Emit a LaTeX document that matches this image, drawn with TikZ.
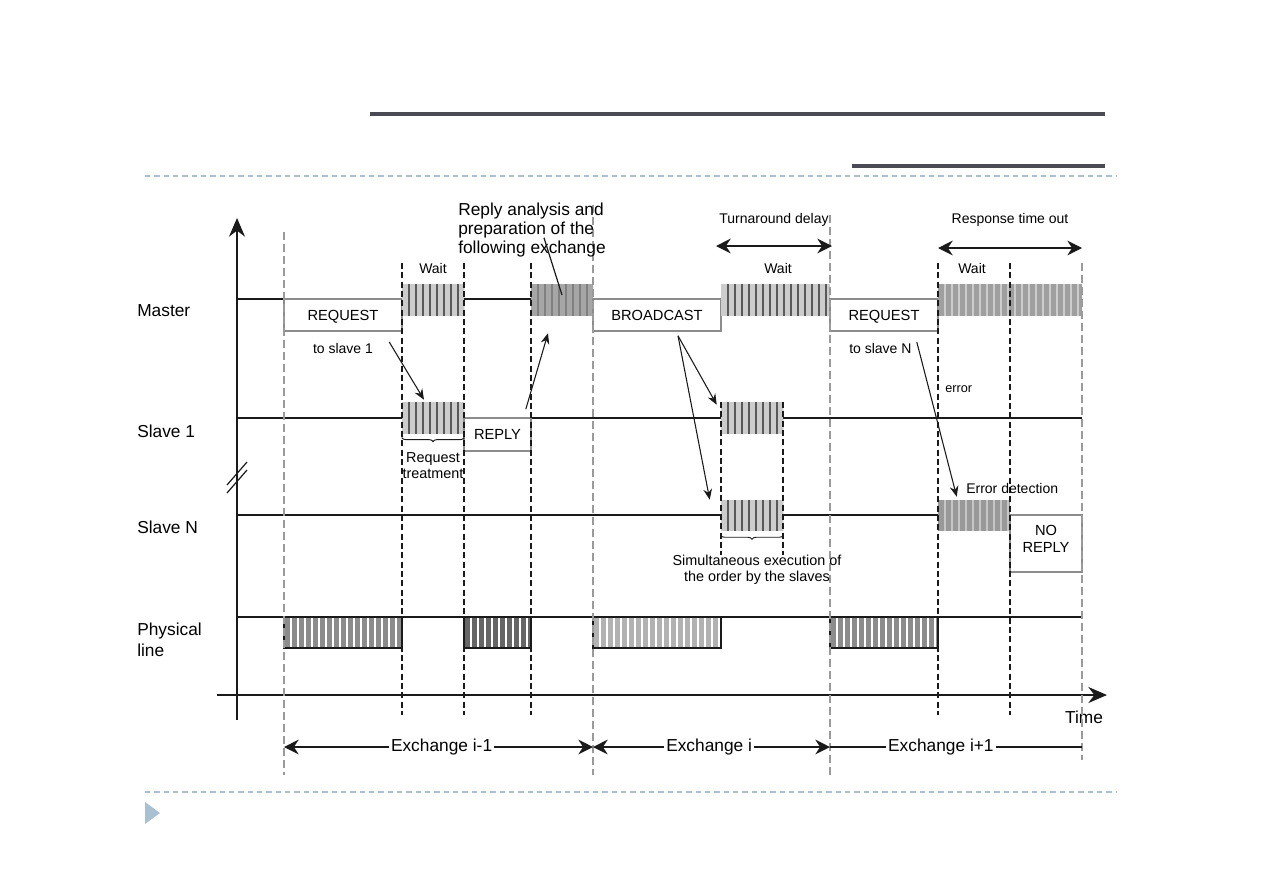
\documentclass[tikz,border=0pt]{standalone}
\usepackage{fontspec}
\setmainfont{Liberation Sans}
\usetikzlibrary{arrows.meta,positioning,fit,decorations.pathreplacing}
\definecolor{ink}{HTML}{1A1A1A}
\definecolor{rulec}{HTML}{4A4A55}
\definecolor{sepc}{HTML}{A9C0D3}
\definecolor{framec}{HTML}{8C8C8C}
\definecolor{slotc}{HTML}{9A9A9A}
\tikzset{
  lane/.style={draw=ink, line width=1.1pt},
  msg/.style={rectangle, draw=framec, line width=1.2pt, fill=white, inner sep=0pt},
  boxtxt/.style={inner sep=0pt, align=center, font=\fontsize{11}{12.5}\selectfont},
  busy/.style 2 args={rectangle, draw=none, fill=#1, inner sep=0pt,
              path picture={\foreach \k in {1,...,24}
                {\draw[#2, line width=0.8pt]
                   ([xshift=\k*5.25pt]path picture bounding box.south west) --
                   ([xshift=\k*5.25pt]path picture bounding box.north west);}}},
  wire/.style={draw=ink, line width=0.9pt},
  slot/.style={draw=slotc, line width=0.9pt, dash pattern=on 6pt off 3pt},
  slotdk/.style={draw=ink, line width=0.8pt, dash pattern=on 4.5pt off 2.5pt},
  fl/.style={-{Stealth[length=8pt,width=6.5pt]}, draw=ink, line width=0.8pt},
  dimarr/.style={{Stealth[length=11pt,width=11pt]}-{Stealth[length=11pt,width=11pt]},
              draw=ink, line width=1.1pt},
  axis/.style={-{Stealth[length=14pt,width=12pt]}, draw=ink, line width=1.2pt},
  brc/.style={decorate, decoration={brace, amplitude=3pt}, draw=ink, line width=0.7pt},
  lanelbl/.style={font=\fontsize{13}{15.5}\selectfont, inner sep=0pt, align=left},
  lbl/.style={font=\fontsize{10.5}{12}\selectfont, inner sep=0pt},
  small/.style={font=\fontsize{10.8}{12}\selectfont, inner sep=0pt, align=center},
  big/.style={font=\fontsize{13}{14.6}\selectfont, inner sep=0pt, align=left},
}

\begin{document}
\begin{tikzpicture}[x=0.75pt, y=-0.75pt]
\fill[white] (0,0) rectangle (1263,893);
\useasboundingbox (0,0) rectangle (1263,893);

% --- slide frame --------------------------------------------------------
\draw[draw=rulec, line width=2.6pt] (370,114) -- (1105,114);
\draw[draw=rulec, line width=2.6pt] (852,166) -- (1105,166);
\draw[draw=sepc, line width=0.8pt, dash pattern=on 4pt off 3pt] (145,176) -- (1117,176);
\draw[draw=sepc, line width=0.8pt, dash pattern=on 4pt off 3pt] (145,792) -- (1117,792);
\fill[sepc] (145,802) -- (160,813) -- (145,824) -- cycle;

% --- axes and lanes -----------------------------------------------------
\draw[axis] (237,720) -- (237,218);
\draw[axis] (217,695) -- (1107,695);
\draw[wire] (227,493) -- (247,470);
\draw[wire] (227,485) -- (247,462);
\node[lanelbl] (time) at (1084,717) {Time};

\node[lanelbl, anchor=west] (lmst) at (137,311) {Master};
\node[lanelbl, anchor=west] (ls1) at (137,431) {Slave 1};
\node[lanelbl, anchor=west] (lsn) at (137,527) {Slave N};
\node[lanelbl, anchor=west] (lphy) at (137,640) {Physical\\line};

\draw[lane] (237,299) -- (1082,299);
\draw[lane] (237,418) -- (1082,418);
\draw[lane] (237,515) -- (1082,515);
\draw[lane] (237,617) -- (1082,617);

% --- master -------------------------------------------------------------
\node[msg, fit={(284,299)(402,331)}, label={[boxtxt, text depth=0pt]center:REQUEST}] (req1) {};
\node[busy={gray!40}{black!65}, fit={(402,284)(464,316)}] (wt1) {};
\node[busy={gray!70}{black!50}, fit={(531,284)(593,316)}] (ana) {};
\node[msg, fit={(593,299)(721,331)}, label={[boxtxt]center:BROADCAST}] (bcast) {};
\node[busy={gray!40}{black!65}, fit={(721,284)(830,316)}] (wt2) {};
\node[msg, fit={(830,299)(938,331)}, label={[boxtxt, text depth=0pt]center:REQUEST}] (req2) {};
\node[busy={gray!75}{gray!40}, fit={(938,284)(1082,316)}] (wt3) {};

% --- slaves -------------------------------------------------------------
\node[busy={gray!40}{black!65}, fit={(402,402)(464,434)}] (tr1) {};
\node[msg, fit={(464,418)(531,451)}, label={[boxtxt]center:REPLY}] (rep1) {};
\node[busy={gray!40}{black!65}, fit={(721,402)(783,434)}] (ex1) {};
\node[busy={gray!40}{black!65}, fit={(721,500)(783,531)}] (exn) {};
\node[busy={gray!80}{gray!45}, fit={(938,500)(1010,531)}] (det) {};
\node[msg, fit={(1010,515)(1082,572)}, label={[boxtxt, yshift=3.5pt]center:NO\\REPLY}] (norep) {};

% --- physical line ------------------------------------------------------
\node[busy={gray!90}{white}, draw=ink, line width=0.9pt, fit={(284,617)(402,648)}] (ph1) {};
\node[busy={black!60}{white}, draw=ink, line width=0.9pt, fit={(464,617)(531,648)}] (ph2) {};
\node[busy={gray!60}{white}, draw=ink, line width=0.9pt, fit={(593,617)(721,648)}] (ph3) {};
\node[busy={gray!90}{white}, draw=ink, line width=0.9pt, fit={(830,617)(938,648)}] (ph4) {};

% --- time marks ---------------------------------------------------------
\foreach \x/\ya/\yb in {284/232/775, 593/205/775, 830/215/775, 1082/263/760}
  \draw[slot] (\x,\ya) -- (\x,\yb);
\foreach \x in {402,464,531,938,1010}
  \draw[slotdk] (\x,263) -- (\x,715);
\foreach \x in {721,783}
  \draw[slotdk] (\x,402) -- (\x,555);

% --- labels and messages ------------------------------------------------
\node[lbl] (w1) at (433,268) {Wait};
\node[lbl] (w2) at (778,268) {Wait};
\node[lbl, anchor=west] (w3) at (958,268) {Wait};
\node[lbl] (to1) at (343,348) {to slave 1};
\node[lbl, anchor=west] (to2) at (849,348) {to slave N};
\node[big, anchor=west] (note) at (458,230)
  {Reply analysis and\\preparation of the\\following exchange};
\draw[wire] ([shift={(12,-20)}]note.south) -- ([shift={(0,-5)}]ana.center);

\draw[fl] ([shift={(16,-6)}]to1.east) -- ([shift={(-9,-2)}]tr1.north);
\draw[fl] ([shift={(-6,-8)}]rep1.north east) -- ([shift={(-14,17)}]ana.south);
\draw[fl] ([shift={(21,4)}]bcast.south) -- ([shift={(-4,3)}]ex1.north west);
\draw[fl] ([shift={(21,4)}]bcast.south) -- ([shift={(-11,0)}]exn.north west);
\draw[fl] ([shift={(5,-6)}]to2.east) -- ([shift={(19,-3)}]det.north west);

\draw[brc] ([yshift=-2.5pt]tr1.south east) -- ([yshift=-2.5pt]tr1.south west);
\node[small] (treat) at (433,466) {Request\\treatment};
\draw[brc] ([yshift=-3pt]exn.south east) -- ([yshift=-3pt]exn.south west);
\node[small] (simul) at (757,570) {Simultaneous execution of\\the order by the slaves};
\node[lbl, font=\fontsize{9.5}{11}\selectfont, anchor=west] (err) at (945,389) {error};
\node[lbl, anchor=west] (errdet) at (966,488) {Error detection};

% --- delays -------------------------------------------------------------
\coordinate (ta) at (716,246);
\coordinate (tb) at (832,246);
\coordinate (ra) at (938,248);
\coordinate (rb) at (1082,248);
\draw[dimarr] (ta) -- (tb);
\draw[dimarr] (ra) -- (rb);
\node[lbl] (turn) at (774,220) {Turnaround delay};
\node[lbl] (resp) at (1010,220) {Response time out};

% --- exchanges ----------------------------------------------------------
\coordinate (x0) at (284,747);
\coordinate (x1) at (593,747);
\coordinate (x2) at (830,747);
\coordinate (x3) at (1082,747);
\draw[dimarr] (x0) -- node[big, fill=white, inner sep=1.5pt, pos=0.51] {Exchange i-1} (x1);
\draw[dimarr] (x1) -- node[big, fill=white, inner sep=1.5pt, pos=0.49] {Exchange i} (x2);
\draw[dimarr, -] (x2) -- node[big, fill=white, inner sep=1.5pt, pos=0.44] {Exchange i+1} (x3);
\end{tikzpicture}
\end{document}
